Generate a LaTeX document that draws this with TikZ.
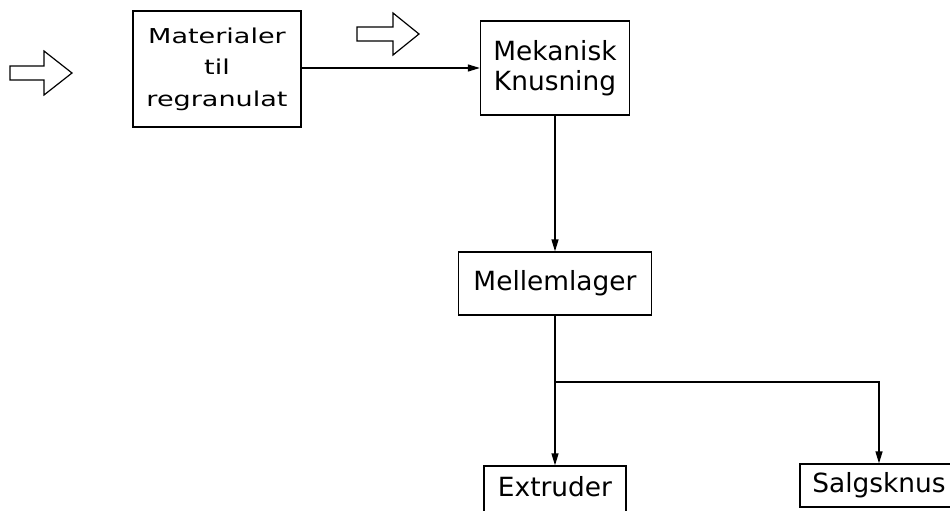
\documentclass[tikz,border=0pt]{standalone}
\usepackage{fontspec}
\setmainfont{DejaVu Sans}
\newfontfamily\widefont[FakeStretch=1.32]{DejaVu Sans}
\usetikzlibrary{arrows.meta}
\tikzset{
  box/.style={draw, line width=1.3pt, inner sep=0pt, align=center, font=\fontsize{26.4}{30}\selectfont},
  flow/.style={line width=1.3pt, -{Triangle[length=12pt,width=7pt]}},
  hollow/.style={draw, line width=1.2pt, line join=miter, fill=white}
}
\begin{document}
\begin{tikzpicture}[x=1pt,y=-1pt]
\useasboundingbox (0,0) rectangle (950,511);
\clip (0,0) rectangle (950,511);
\fill[white] (0,0) rectangle (950,511);

% hollow input arrows
\draw[hollow] (10,66) -- (44,66) -- (44,51) -- (72,73) -- (44,95) -- (44,80) -- (10,80) -- cycle;
\draw[hollow] (357,27) -- (393,27) -- (393,13) -- (419,34) -- (393,55) -- (393,41) -- (357,41) -- cycle;

% boxes
\node[box, minimum width=168pt, minimum height=116pt,
      font=\widefont\fontsize{20.5}{31.5}\selectfont] (mat) at (217,69) {Materialer\\til\\regranulat};
\node[box, minimum width=149pt, minimum height=94pt] (mek) at (555,68) {Mekanisk\\Knusning};
\node[box, minimum width=193pt, minimum height=63pt] (mel) at (555,283.5) {Mellemlager};
\node[box, minimum width=142pt, minimum height=66pt] (ext) at (555,499) {Extruder\\[-4pt]\phantom{x}};
\node[box, minimum width=158pt, minimum height=43pt] (sal) at (879,485.5) {Salgsknus};

% connectors
\coordinate (j) at (555,382);
\draw[flow] (mat.east |- mek.west) -- (mek.west);
\draw[flow] (mek.south) -- (mel.north);
\draw[line width=1.3pt] (mel.south) -- (j);
\draw[flow] (j) -- (ext.north);
\draw[flow] (j) -| (sal.north);
\end{tikzpicture}
\end{document}
